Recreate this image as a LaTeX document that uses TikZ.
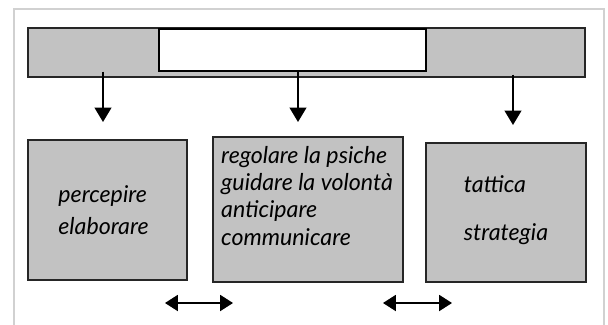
\documentclass[tikz,border=0pt]{standalone}
\usepackage{fontspec}
\setmainfont{Lato}
\usetikzlibrary{arrows.meta}
\definecolor{boxgray}{gray}{0.76}
\definecolor{framegray}{gray}{0.82}
\tikzset{
	graybox/.style={draw=black!85, fill=boxgray, line width=1pt, inner sep=0pt},
	hand/.style={font=\fontsize{16.5}{19.5}\selectfont\itshape},
	downarrow/.style={line width=1.1pt, -{Triangle[length=0.36cm, width=0.42cm]}},
	twoway/.style={line width=1.1pt, {Triangle[length=0.32cm, width=0.4cm]}-{Triangle[length=0.32cm, width=0.4cm]}}
}
\begin{document}
\begin{tikzpicture}[x=0.025cm, y=-0.025cm]
						\useasboundingbox (0,0) rectangle (608,324);
						\draw[framegray, line width=1.6pt] (14,326) -- (14,9) -- (604,9) -- (604,326);
						\node[graybox, minimum width=13.925cm, minimum height=1.225cm] (bar) at (306.5,52.5) {};
						\node[draw=black, fill=white, line width=1pt, minimum width=6.675cm, minimum height=1.05cm] (title) at (292.5,50) {};
						\node[graybox, minimum width=3.975cm, minimum height=3.5cm] (left) at (107.5,210) {};
						\node[graybox, minimum width=4.75cm, minimum height=3.625cm] (mid) at (308,209.5) {};
						\node[graybox, minimum width=4cm, minimum height=3.475cm] (right) at (506,212.5) {};
						\node[hand, align=left, font=\fontsize{16.5}{23}\selectfont\itshape] (lefttext) at ([xshift=-0.1cm]left) {percepire\\elaborare};
						\node[hand, align=left, anchor=north west] (midtext) at ([xshift=0.1cm, yshift=-0.12cm]mid.north west) {regolare la psiche\\guidare la volontà\\anticipare\\communicare};
						\node[hand, align=left, font=\fontsize{16.5}{34}\selectfont\itshape] (righttext) at ([yshift=0.05cm]right) {tattica\\strategia};
						\coordinate (a1) at (103,122); \coordinate (a2) at (298,122); \coordinate (a3) at (513,125);
						\draw[downarrow] (bar.south -| a1) ++(0,-6) -- (a1);
						\draw[downarrow] (title.south -| a2) -- (a2);
						\draw[downarrow] (bar.south -| a3) ++(0,-3) -- (a3);
						\coordinate (b1) at (165,303); \coordinate (b2) at (233,303);
						\coordinate (c1) at (383,303); \coordinate (c2) at (452,303);
						\draw[twoway] (b1) -- (b2); \draw[twoway] (c1) -- (c2);
					\end{tikzpicture}
\end{document}
